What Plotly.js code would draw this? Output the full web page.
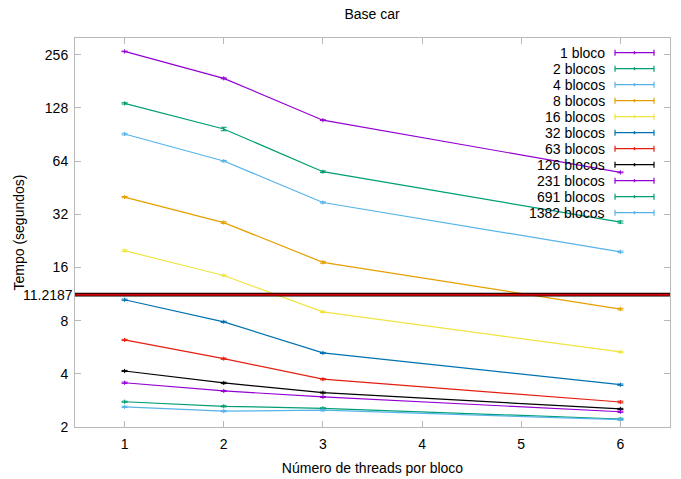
<!DOCTYPE html>
<html>
<head>
<meta charset="utf-8">
<script src="https://cdn.plot.ly/plotly-3.0.1.min.js"></script>
<style>html,body{margin:0;padding:0;background:#fff}#chart{width:681px;height:479px}</style>
</head>
<body>
<div id="chart"></div>
<script>
// ---- data ----
const threads = [1, 2, 3, 6];
const seriesNames = ["1 bloco", "2 blocos", "4 blocos", "8 blocos", "16 blocos", "32 blocos",
                     "63 blocos", "126 blocos", "231 blocos", "691 blocos", "1382 blocos"];
const b1    = [267, 188, 109, 55.2];
const b2    = [135.7, 97.2, 55.7, 28.9];
const b4    = [91, 64, 37.3, 19.6];
const b8    = [40, 28.7, 17.1, 9.3];
const b16   = [19.9, 14.4, 8.96, 5.32];
const b32   = [10.5, 7.87, 5.25, 3.47];
const b63   = [6.22, 4.87, 3.73, 2.77];
const b126  = [4.15, 3.55, 3.13, 2.53];
const b231  = [3.56, 3.2, 2.96, 2.44];
const b691  = [2.78, 2.62, 2.55, 2.22];
const b1382 = [2.6, 2.46, 2.49, 2.2];
const errs = [
  [1.0, 1.2, 0.6, 0.3],
  [1.2, 2.2, 0.6, 0.4],
  [1.0, 0.5, 0.3, 0.2],
  [0.3, 0.3, 0.2, 0.1],
  [0.2, 0.1, 0.08, 0.04],
  [0.08, 0.06, 0.04, 0.03],
  [0.05, 0.04, 0.03, 0.03],
  [0.03, 0.03, 0.02, 0.02],
  [0.03, 0.02, 0.02, 0.02],
  [0.02, 0.02, 0.02, 0.02],
  [0.02, 0.02, 0.02, 0.02]
];
const threshold = 11.2187;
const thresholdLabel = "11.2187";
const yTickVals = [2, 4, 8, 16, 32, 64, 128, 256];
const yTickText = ["2", "4", "8", "16", "32", "64", "128", "256"];
const xTickVals = [1, 2, 3, 4, 5, 6];

const values = [b1, b2, b4, b8, b16, b32, b63, b126, b231, b691, b1382];
const colors = ["#9400d3", "#009e73", "#56b4e9", "#e69f00", "#f0e442", "#0072b2",
                "#e51e10", "#000000", "#9400d3", "#009e73", "#56b4e9"];

const FONT = "Liberation Sans, Arial, sans-serif";
const W = 681, H = 479;
const M = {l: 75, r: 11, t: 38, b: 52};
const PW = W - M.l - M.r, PH = H - M.t - M.b;
const YMIN = Math.log10(2), YMAX = 2.5025;

const traces = values.map((v, i) => ({
  x: threads, y: v, name: seriesNames[i], type: "scatter", mode: "lines+markers",
  line: {color: colors[i], width: 1.2},
  marker: {color: colors[i], size: 3, symbol: "line-ns-open", line: {color: colors[i], width: 1}},
  error_y: {type: "data", array: errs[i], visible: true, color: colors[i], thickness: 1, width: 3},
  showlegend: false, hoverinfo: "x+y+name"
}));

// threshold line (black outline + red core)
traces.push({x: [0.5, 6.5], y: [threshold, threshold], mode: "lines", type: "scatter",
  line: {color: "#000000", width: 3.8}, showlegend: false, hoverinfo: "skip"});
traces.push({x: [0.5, 6.5], y: [threshold, threshold], mode: "lines", type: "scatter",
  line: {color: "#d40000", width: 2}, showlegend: false, hoverinfo: "skip"});

const annotations = [];
const shapes = [];
const px2x = p => (p - M.l) / PW;
const py2y = p => (H - M.b - p) / PH;

// threshold label on the y axis
annotations.push({text: thresholdLabel, xref: "paper", yref: "paper", x: px2x(75),
  y: (Math.log10(threshold) - YMIN) / (YMAX - YMIN), xanchor: "right", yanchor: "middle",
  showarrow: false, font: {family: FONT, size: 14, color: "#000"}});

// y axis title
annotations.push({text: "Tempo (segundos)", xref: "paper", yref: "paper", x: px2x(18), y: 0.5,
  xanchor: "center", yanchor: "middle", textangle: -90, showarrow: false,
  font: {family: FONT, size: 14, color: "#000"}});

// custom legend (text right-aligned, sample on the right like gnuplot)
seriesNames.forEach((n, i) => {
  const yp = 52.7 + 16 * i;
  annotations.push({text: n, xref: "paper", yref: "paper", x: px2x(607), y: py2y(yp),
    xanchor: "right", yanchor: "middle", showarrow: false,
    font: {family: FONT, size: 14, color: "#000"}});
  shapes.push({type: "line", xref: "paper", yref: "paper", x0: px2x(615), x1: px2x(654),
    y0: py2y(yp), y1: py2y(yp), line: {color: colors[i], width: 1.2}});
  [615, 654].forEach(xp => shapes.push({type: "line", xref: "paper", yref: "paper",
    x0: px2x(xp), x1: px2x(xp), y0: py2y(yp - 3), y1: py2y(yp + 3),
    line: {color: colors[i], width: 1.2}}));
  shapes.push({type: "line", xref: "paper", yref: "paper", x0: px2x(634.5), x1: px2x(634.5),
    y0: py2y(yp - 1.5), y1: py2y(yp + 1.5), line: {color: colors[i], width: 1.5}});
});

const axisCommon = {
  showline: true, linecolor: "#b8b8b8", linewidth: 1, mirror: "ticks",
  ticks: "inside", ticklen: 6, tickcolor: "#b8b8b8", tickwidth: 1,
  showgrid: false, zeroline: false,
  tickfont: {family: FONT, size: 14, color: "#000"}
};

const layout = {
  width: W, height: H,
  margin: M,
  paper_bgcolor: "#fff", plot_bgcolor: "#fff",
  title: {text: "Base car", font: {family: FONT, size: 14, color: "#000"},
          x: (372 / W), xanchor: "center", y: 1 - 14 / H, yanchor: "middle", xref: "container", yref: "container"},
  xaxis: Object.assign({}, axisCommon, {
    range: [0.5, 6.5], tickvals: xTickVals, ticklabelstandoff: 4,
    title: {text: "Número de threads por bloco", font: {family: FONT, size: 14, color: "#000"}, standoff: 12}
  }),
  yaxis: Object.assign({}, axisCommon, {
    type: "log", range: [YMIN, YMAX],
    tickvals: yTickVals, ticktext: yTickText, ticklabelstandoff: 3
  }),
  annotations: annotations,
  shapes: shapes,
  showlegend: false
};

Plotly.newPlot("chart", traces, layout, {displayModeBar: false, staticPlot: true});
</script>
</body>
</html>
